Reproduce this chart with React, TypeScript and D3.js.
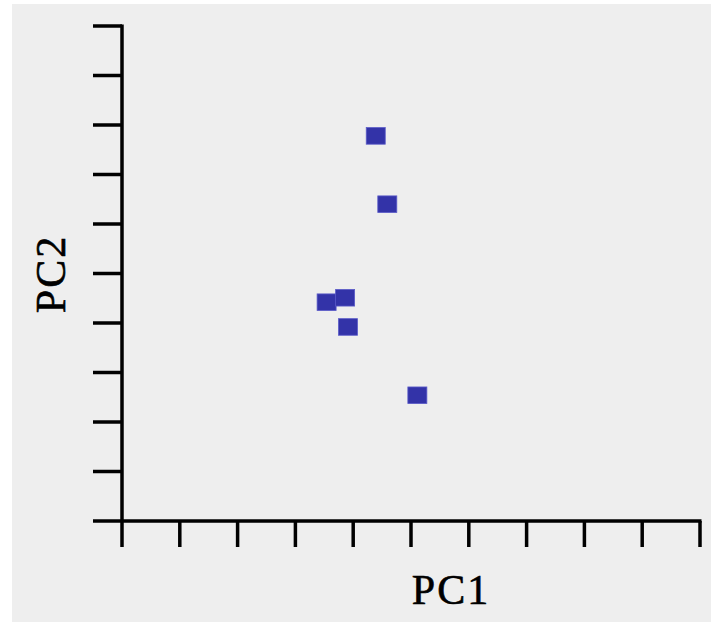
import React from "react";
import * as d3 from "d3";

const pc1Values = [4.39, 4.59, 3.54, 3.86, 3.91, 5.11];
const pc2Values = [7.78, 6.40, 4.42, 4.51, 3.92, 2.54];
const xTicks = [0, 1, 2, 3, 4, 5, 6, 7, 8, 9, 10];
const yTicks = [0, 1, 2, 3, 4, 5, 6, 7, 8, 9, 10];
const xLabel = "PC1";
const yLabel = "PC2";

const W = 711;
const H = 622;

export default function App() {
  const x = d3.scaleLinear().domain([0, 10]).range([122, 700]);
  const y = d3.scaleLinear().domain([0, 10]).range([521, 26]);
  const pts = pc1Values.map((v, i) => ({ x: v, y: pc2Values[i] }));
  const font = "'Liberation Serif', 'Times New Roman', serif";
  return (
    <svg width={W} height={H} style={{ position: "absolute", left: 0, top: 0, display: "block" }}>
      <rect x={0} y={0} width={W} height={H} fill="#ffffff" />
      <rect x={12} y={4} width={W - 12} height={H - 4} fill="#eeeeee" />
      {/* y axis */}
      <line x1={x(0)} x2={x(0)} y1={y(10) - 1.5} y2={y(0)} stroke="#000" strokeWidth={3.5} />
      {yTicks.map((t) => (
        <line key={"yt" + t} x1={x(0) - 29} x2={x(0)} y1={y(t)} y2={y(t)} stroke="#000" strokeWidth={3.5} />
      ))}
      {/* x axis */}
      <line x1={x(0)} x2={x(10) + 1.5} y1={y(0)} y2={y(0)} stroke="#000" strokeWidth={3.5} />
      {xTicks.map((t) => (
        <line key={"xt" + t} x1={x(t)} x2={x(t)} y1={y(0)} y2={y(0) + 26} stroke="#000" strokeWidth={3.5} />
      ))}
      {pts.map((p, i) => (
        <rect
          key={i}
          x={x(p.x) - 9.5}
          y={y(p.y) - 8.3}
          width={19}
          height={16.6}
          fill="#3333a8"
          stroke="#5a5ac8"
          strokeWidth={0.8}
        />
      ))}
      <text x={451} y={604} textAnchor="middle" fontFamily={font} fontSize={42} letterSpacing={2} fill="#000" stroke="#000" strokeWidth={0.6}>
        {xLabel}
      </text>
      <text
        transform={`translate(65,274) rotate(-90)`}
        textAnchor="middle"
        fontFamily={font}
        fontSize={42}
        letterSpacing={2}
        fill="#000"
        stroke="#000"
        strokeWidth={0.6}
      >
        {yLabel}
      </text>
    </svg>
  );
}
